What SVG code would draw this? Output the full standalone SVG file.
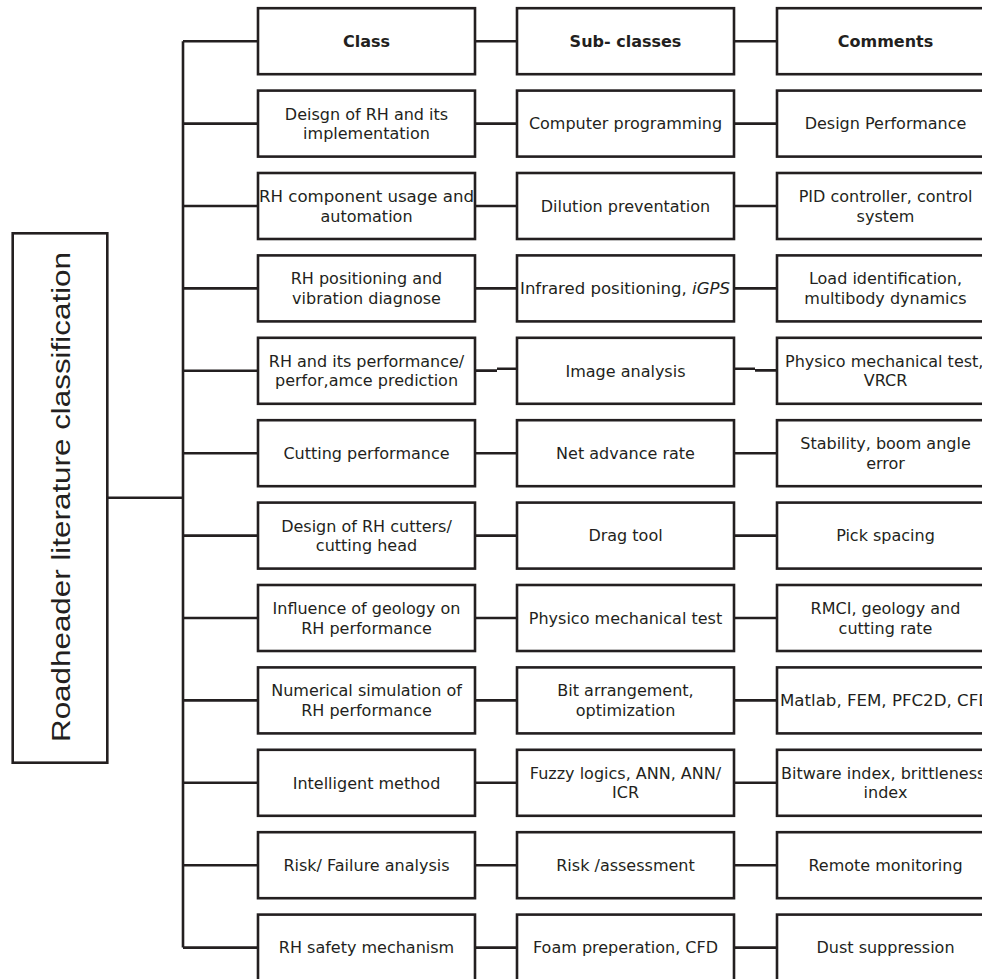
<svg xmlns="http://www.w3.org/2000/svg" width="982" height="979" viewBox="0 0 982 979">
<style>
.bx{fill:#fff;stroke:#231f20;stroke-width:2.6}
.ln{fill:none;stroke:#231f20;stroke-width:2.6}
.t{font-family:"DejaVu Sans",Verdana,sans-serif;font-size:16px;fill:#231f20;text-anchor:middle}
.s{text-anchor:start}
.h{font-weight:bold}
.main{font-family:"Liberation Sans",Arial,sans-serif;font-size:25px;fill:#231f20;text-anchor:middle}
</style>
<rect width="982" height="979" fill="#fff"/>
<g id="connectors">
<path class="ln" d="M183 41.2V947.6M107 497.7H183"/>
<path class="ln" d="M183 41.2H258M183 123.6H258M183 206H258M183 288.4H258M183 370.8H258M183 453.2H258M183 535.6H258M183 618H258M183 700.4H258M183 782.8H258M183 865.2H258M183 947.6H258"/>
<path class="ln" d="M475 41.2H517M475 123.6H517M475 206H517M475 288.4H517M475 370.6H497M497 368.8H517M475 453.2H517M475 535.6H517M475 618H517M475 700.4H517M475 782.8H517M475 865.2H517M475 947.6H517"/>
<path class="ln" d="M734 41.2H777M734 123.6H777M734 206H777M734 288.4H777M734 368.8H755M755 370.4H777M734 453.2H777M734 535.6H777M734 618H777M734 700.4H777M734 782.8H777M734 865.2H777M734 947.6H777"/>
</g>
<g id="root">
<rect class="bx" x="12.7" y="233.3" width="94.6" height="529.4" stroke-width="2.2"/>
<text class="main" transform="translate(70 497) rotate(-90)" textLength="490" lengthAdjust="spacingAndGlyphs">Roadheader literature classification</text>
</g>
<g id="row0">
<rect class="bx" x="258" y="8.2" width="217" height="66"/><text class="t h" x="366.5" y="47">Class</text>
<rect class="bx" x="517" y="8.2" width="217" height="66"/><text class="t h" x="625.5" y="47">Sub- classes</text>
<rect class="bx" x="777" y="8.2" width="217" height="66"/><text class="t h" x="885.5" y="47">Comments</text>
</g>
<g id="row1">
<rect class="bx" x="258" y="90.6" width="217" height="66"/><text class="t" x="366.5" y="119.6">Deisgn of RH and its</text><text class="t" x="366.5" y="139.1">implementation</text>
<rect class="bx" x="517" y="90.6" width="217" height="66"/><text class="t" x="625.5" y="129.4">Computer programming</text>
<rect class="bx" x="777" y="90.6" width="217" height="66"/><text class="t" x="885.5" y="129.4">Design Performance</text>
</g>
<g id="row2">
<rect class="bx" x="258" y="173" width="217" height="66"/><text class="t s" x="259" y="202" textLength="215" lengthAdjust="spacingAndGlyphs">RH component usage and</text><text class="t" x="366.5" y="221.5">automation</text>
<rect class="bx" x="517" y="173" width="217" height="66"/><text class="t" x="625.5" y="211.8">Dilution preventation</text>
<rect class="bx" x="777" y="173" width="217" height="66"/><text class="t" x="885.5" y="202">PID controller, control</text><text class="t" x="885.5" y="221.5">system</text>
</g>
<g id="row3">
<rect class="bx" x="258" y="255.4" width="217" height="66"/><text class="t" x="366.5" y="284.4">RH positioning and</text><text class="t" x="366.5" y="303.9">vibration diagnose</text>
<rect class="bx" x="517" y="255.4" width="217" height="66"/><text class="t s" x="520" y="294.2" textLength="210" lengthAdjust="spacingAndGlyphs">Infrared positioning, <tspan font-style="italic">iGPS</tspan></text>
<rect class="bx" x="777" y="255.4" width="217" height="66"/><text class="t" x="885.5" y="284.4">Load identification,</text><text class="t" x="885.5" y="303.9">multibody dynamics</text>
</g>
<g id="row4">
<rect class="bx" x="258" y="337.8" width="217" height="66"/><text class="t" x="366.5" y="366.8">RH and its performance/</text><text class="t" x="366.5" y="386.3">perfor,amce prediction</text>
<rect class="bx" x="517" y="337.8" width="217" height="66"/><text class="t" x="625.5" y="376.6">Image analysis</text>
<rect class="bx" x="777" y="337.8" width="217" height="66"/><text class="t s" x="785" y="366.8">Physico mechanical test,</text><text class="t" x="885.5" y="386.3">VRCR</text>
</g>
<g id="row5">
<rect class="bx" x="258" y="420.2" width="217" height="66"/><text class="t" x="366.5" y="459">Cutting performance</text>
<rect class="bx" x="517" y="420.2" width="217" height="66"/><text class="t" x="625.5" y="459">Net advance rate</text>
<rect class="bx" x="777" y="420.2" width="217" height="66"/><text class="t" x="885.5" y="449.2">Stability, boom angle</text><text class="t" x="885.5" y="468.7">error</text>
</g>
<g id="row6">
<rect class="bx" x="258" y="502.6" width="217" height="66"/><text class="t" x="366.5" y="531.6">Design of RH cutters/</text><text class="t" x="366.5" y="551.1">cutting head</text>
<rect class="bx" x="517" y="502.6" width="217" height="66"/><text class="t" x="625.5" y="541.4">Drag tool</text>
<rect class="bx" x="777" y="502.6" width="217" height="66"/><text class="t" x="885.5" y="541.4">Pick spacing</text>
</g>
<g id="row7">
<rect class="bx" x="258" y="585" width="217" height="66"/><text class="t" x="366.5" y="614">Influence of geology on</text><text class="t" x="366.5" y="633.5">RH performance</text>
<rect class="bx" x="517" y="585" width="217" height="66"/><text class="t" x="625.5" y="623.8">Physico mechanical test</text>
<rect class="bx" x="777" y="585" width="217" height="66"/><text class="t" x="885.5" y="614">RMCI, geology and</text><text class="t" x="885.5" y="633.5">cutting rate</text>
</g>
<g id="row8">
<rect class="bx" x="258" y="667.4" width="217" height="66"/><text class="t" x="366.5" y="696.4">Numerical simulation of</text><text class="t" x="366.5" y="715.9">RH performance</text>
<rect class="bx" x="517" y="667.4" width="217" height="66"/><text class="t" x="625.5" y="696.4">Bit arrangement,</text><text class="t" x="625.5" y="715.9">optimization</text>
<rect class="bx" x="777" y="667.4" width="217" height="66"/><text class="t s" x="780" y="706.2" textLength="211" lengthAdjust="spacingAndGlyphs">Matlab, FEM, PFC2D, CFD</text>
</g>
<g id="row9">
<rect class="bx" x="258" y="749.8" width="217" height="66"/><text class="t" x="366.5" y="788.6">Intelligent method</text>
<rect class="bx" x="517" y="749.8" width="217" height="66"/><text class="t" x="625.5" y="778.8">Fuzzy logics, ANN, ANN/</text><text class="t" x="625.5" y="798.3">ICR</text>
<rect class="bx" x="777" y="749.8" width="217" height="66"/><text class="t s" x="781" y="778.8">Bitware index, brittleness</text><text class="t" x="885.5" y="798.3">index</text>
</g>
<g id="row10">
<rect class="bx" x="258" y="832.2" width="217" height="66"/><text class="t" x="366.5" y="871">Risk/ Failure analysis</text>
<rect class="bx" x="517" y="832.2" width="217" height="66"/><text class="t" x="625.5" y="871">Risk /assessment</text>
<rect class="bx" x="777" y="832.2" width="217" height="66"/><text class="t" x="885.5" y="871">Remote monitoring</text>
</g>
<g id="row11">
<rect class="bx" x="258" y="914.6" width="217" height="66"/><text class="t" x="366.5" y="953.4">RH safety mechanism</text>
<rect class="bx" x="517" y="914.6" width="217" height="66"/><text class="t" x="625.5" y="953.4">Foam preperation, CFD</text>
<rect class="bx" x="777" y="914.6" width="217" height="66"/><text class="t" x="885.5" y="953.4">Dust suppression</text>
</g>
</svg>
